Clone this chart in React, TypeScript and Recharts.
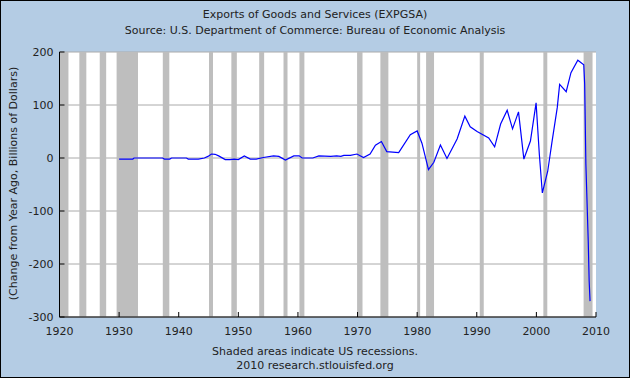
import React from "react";
import {
  LineChart,
  Line,
  XAxis,
  YAxis,
  CartesianGrid,
  ReferenceArea,
} from "recharts";

// decimal years and year-over-year change, billions of dollars
const years = [
  1930, 1932.3, 1932.5, 1937.3, 1937.6, 1938.5, 1938.8, 1941.3, 1941.6, 1943.3,
  1944.3, 1944.9, 1945.5, 1946.1, 1946.7, 1947.8, 1948.6, 1949.3, 1950, 1951,
  1952, 1953, 1954.2, 1955.9, 1956.8, 1957.9, 1959.3, 1960.2, 1960.7, 1962.5,
  1963.5, 1965.5, 1966.5, 1967.2, 1967.7, 1968.8, 1969.9, 1971, 1972.1, 1973,
  1974, 1974.9, 1976.9, 1978.85, 1980, 1980.8, 1981.9, 1982.8, 1983.9, 1985,
  1986.7, 1988, 1988.9, 1990.05, 1992, 1993, 1994, 1995.1, 1996, 1997,
  1997.9, 1999, 1999.95, 2000.5, 2001, 2001.9, 2002.6, 2003.5, 2003.9, 2005,
  2005.8, 2006.95, 2007.95, 2008.1, 2008.3, 2008.5, 2008.7, 2008.85, 2009.0,
];
const changes = [
  -2, -2, 0, 0, -2, -2, 0, 0, -2, -2,
  0, 3, 7.5, 7, 4, -3, -3, -2, -3, 4,
  -2, -2, 1, 4, 3, -4, 4, 4, 0, 0,
  4, 3, 4, 3, 5, 5, 7.5, 1, 7.5, 24,
  31, 12, 10, 44, 51, 28, -22, -8, 24.5, -1,
  36, 79, 59, 50, 38, 21, 64, 90, 55, 87,
  -2, 32, 104, 6, -66, -25, 29, 95, 139, 125,
  161, 184.5, 176, 139, -11, -84, -158, -231, -270,
];

const recessionStarts = [
  1920, 1923.33, 1926.75, 1929.58, 1937.33, 1945.08, 1948.83, 1953.5, 1957.58,
  1960.25, 1969.92, 1973.83, 1980, 1981.5, 1990.5, 2001.17, 2007.92,
];
const recessionEnds = [
  1921.5, 1924.5, 1927.83, 1933.17, 1938.42, 1945.75, 1949.75, 1954.33, 1958.25,
  1961.08, 1970.83, 1975.17, 1980.5, 1982.83, 1991.17, 2001.83, 2009.42,
];

const xTicks = [1920, 1930, 1940, 1950, 1960, 1970, 1980, 1990, 2000, 2010];
const yTicks = [-300, -200, -100, 0, 100, 200];

const data = years.map((year, i) => ({ year, value: changes[i] }));

const font = "'DejaVu Sans', Verdana, sans-serif";
const textStyle: React.CSSProperties = {
  position: "absolute",
  left: 0,
  width: 630,
  textAlign: "center",
  fontFamily: font,
  fontSize: 11,
  color: "#222",
  lineHeight: "13px",
};

export default function App() {
  return (
    <div
      style={{
        position: "absolute",
        left: 0,
        top: 0,
        width: 630,
        height: 378,
        background: "#b4cce4",
        boxShadow: "inset 0 0 0 1px #000",
      }}
    >
      <div style={{ ...textStyle, top: 8 }}>Exports of Goods and Services (EXPGSA)</div>
      <div style={{ ...textStyle, top: 24 }}>
        Source: U.S. Department of Commerce: Bureau of Economic Analysis
      </div>
      <div style={{ ...textStyle, top: 345 }}>Shaded areas indicate US recessions.</div>
      <div style={{ ...textStyle, top: 359 }}>2010 research.stlouisfed.org</div>
      <div
        style={{
          ...textStyle,
          width: 300,
          left: 13 - 150,
          top: 184 - 7,
          transform: "rotate(-90deg)",
        }}
      >
        (Change from Year Ago, Billions of Dollars)
      </div>
      <LineChart
        width={630}
        height={378}
        data={data}
        margin={{ top: 52, right: 34, left: 0, bottom: 0 }}
        style={{ position: "absolute", left: 0, top: 0 }}
      >
        <CartesianGrid vertical={false} stroke="#aaaaaa" fill="#ffffff" />
        {recessionStarts.map((s, i) => (
          <ReferenceArea
            key={i}
            x1={s}
            x2={recessionEnds[i]}
            fill="#bebebe"
            fillOpacity={1}
            stroke="none"
            ifOverflow="hidden"
          />
        ))}
        <XAxis
          dataKey="year"
          type="number"
          domain={[1920, 2010]}
          ticks={xTicks}
          height={61}
          axisLine={{ stroke: "#000" }}
          tickLine={{ stroke: "#000" }}
          tickSize={-5}
          tickMargin={15}
          tick={{ fill: "#222", fontSize: 11, fontFamily: font }}
          interval={0}
        />
        <YAxis
          type="number"
          domain={[-300, 200]}
          ticks={yTicks}
          width={59.5}
          axisLine={{ stroke: "#000" }}
          tickLine={{ stroke: "#000" }}
          tickSize={-5}
          tickMargin={11}
          tick={{ fill: "#222", fontSize: 11, fontFamily: font }}
          interval={0}
        />
        <Line
          type="linear"
          dataKey="value"
          stroke="#0000ff"
          strokeWidth={1.2}
          dot={false}
          isAnimationActive={false}
        />
      </LineChart>
    </div>
  );
}
